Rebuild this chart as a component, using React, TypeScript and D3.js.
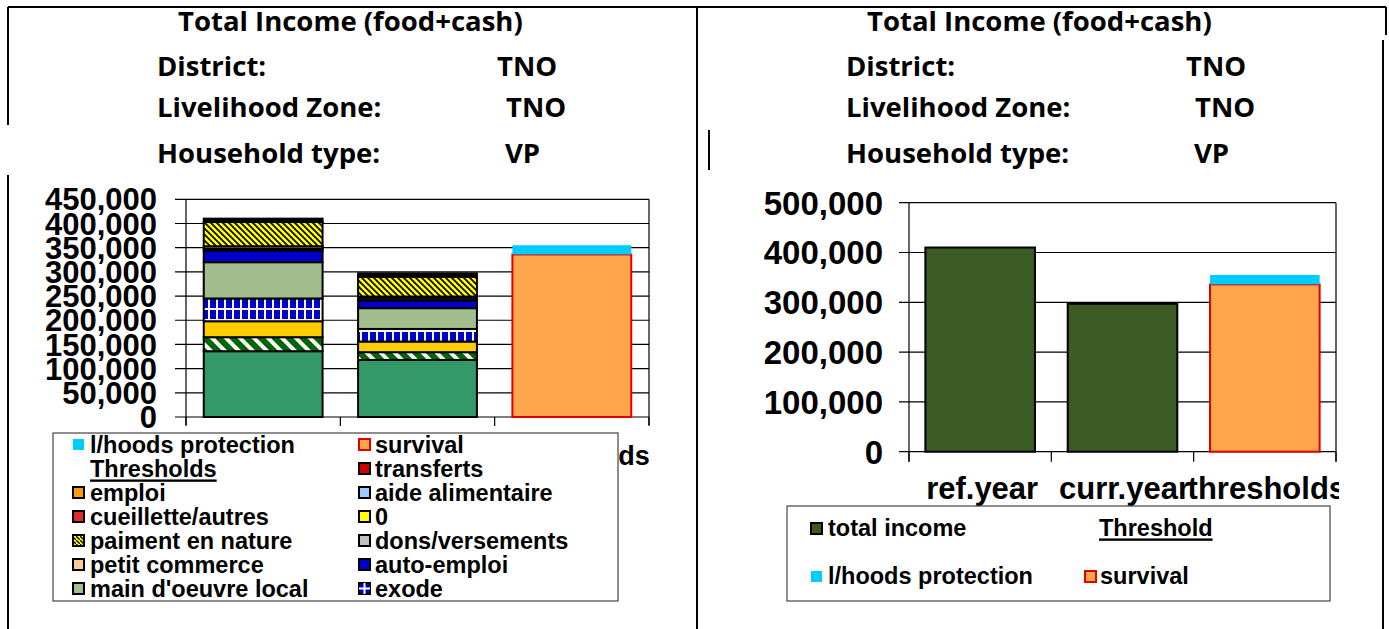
import React from "react";
import * as d3 from "d3";

// ---------- data ----------
const categories = ["ref.year", "curr.year", "thresholds"];

// left chart: stacked income sources (bottom to top)
const cultures = [136000, 118000, 0];
const betail = [29000, 16000, 0];
const achat = [33000, 22000, 0];
const exode = [47000, 26000, 0];
const mainOeuvre = [75000, 43000, 0];
const autoEmploi = [24000, 16000, 0];
const transferts = [4000, 8000, 0];
const petitCommerce = [5000, 0, 0];
const paiementNature = [50000, 41000, 0];
const autres = [7000, 7000, 0];

// thresholds
const survival = [0, 0, 336000];
const lhoodsProtection = [0, 0, 19000];

// right chart
const totalIncome = [410000, 297000, 0];

const leftTicks = [0, 50000, 100000, 150000, 200000, 250000, 300000, 350000, 400000, 450000];
const rightTicks = [0, 100000, 200000, 300000, 400000, 500000];

const leftLegendCol1 = ["l/hoods protection", "Thresholds", "emploi", "cueillette/autres", "paiment en nature", "petit commerce", "main d'oeuvre local"];
const leftLegendCol2 = ["survival", "transferts", "aide alimentaire", "0", "dons/versements", "auto-emploi", "exode"];

// ---------- styles ----------
const GREEN = "#339966";
const ORANGE = "#FFA64D";
const RED = "#E00000";
const CYAN = "#00CCFF";
const BLUE = "#0000CC";
const SAGE = "#A2BE8E";
const OLIVE = "#3B5A24";

type Series = { key: string; values: number[]; fill: string; stroke: string };

const leftSeries: Series[] = [
  { key: "cultures", values: cultures, fill: GREEN, stroke: "#000" },
  { key: "betail", values: betail, fill: "url(#hatchGreen)", stroke: "#000" },
  { key: "achat", values: achat, fill: "#FFCC00", stroke: "#000" },
  { key: "exode", values: exode, fill: "url(#exodePat)", stroke: "#000" },
  { key: "mainOeuvre", values: mainOeuvre, fill: SAGE, stroke: "#000" },
  { key: "autoEmploi", values: autoEmploi, fill: BLUE, stroke: "#000" },
  { key: "transferts", values: transferts, fill: "#111", stroke: "#000" },
  { key: "petitCommerce", values: petitCommerce, fill: "#FFCC99", stroke: "#000" },
  { key: "paiementNature", values: paiementNature, fill: "url(#hatchYellow)", stroke: "#000" },
  { key: "autres", values: autres, fill: "#000", stroke: "#000" },
  { key: "survival", values: survival, fill: ORANGE, stroke: RED },
  { key: "lhoods", values: lhoodsProtection, fill: CYAN, stroke: "none" },
];

const rightSeries: Series[] = [
  { key: "total", values: totalIncome, fill: OLIVE, stroke: "#000" },
  { key: "survival", values: survival, fill: ORANGE, stroke: RED },
  { key: "lhoods", values: lhoodsProtection, fill: CYAN, stroke: "none" },
];

const leftSwatch1 = [
  { fill: CYAN, stroke: "none" },
  null,
  { fill: "#FF9900", stroke: "#000" },
  { fill: "#DD2C2C", stroke: "#000" },
  { fill: "url(#hatchYellowSm)", stroke: "#000" },
  { fill: "#FFCC99", stroke: "#000" },
  { fill: SAGE, stroke: "#000" },
];
const leftSwatch2 = [
  { fill: ORANGE, stroke: RED },
  { fill: "#CC0000", stroke: "#000" },
  { fill: "#99CCFF", stroke: "#000" },
  { fill: "#FFFF00", stroke: "#000" },
  { fill: "#C0C0C0", stroke: "#000" },
  { fill: BLUE, stroke: "#000" },
  { fill: BLUE, stroke: "#000" },
];

const HEAD_FONT = "'Open Sans', Lato, sans-serif";
const AX_FONT = "'Liberation Sans', Arial, sans-serif";
const LEG_SIZE = 23.5;

function stackSeries(series: Series[]) {
  const table = categories.map((c, i) => {
    const row: any = { cat: c };
    series.forEach((s) => (row[s.key] = s.values[i]));
    return row;
  });
  return d3.stack<any>().keys(series.map((s) => s.key))(table);
}

function Header({ dx }: { dx: number }) {
  const st: React.CSSProperties = { fontFamily: HEAD_FONT, fontWeight: 700, fontSize: 27.5 };
  return (
    <g style={st} fill="#000">
      <text x={178 + dx} y={31}>Total Income (food+cash)</text>
      <text x={157 + dx} y={76}>District:</text>
      <text x={497 + dx} y={76}>TNO</text>
      <text x={157 + dx} y={117}>Livelihood Zone:</text>
      <text x={506 + dx} y={117}>TNO</text>
      <text x={157 + dx} y={163}>Household type:</text>
      <text x={505 + dx} y={163}>VP</text>
    </g>
  );
}

function LeftChart() {
  const x0 = 186, x1 = 649, yTop = 199.3, yBot = 417;
  const x = d3.scaleBand<string>().domain(categories).range([x0, x1]).paddingInner(0.23).paddingOuter(0.115);
  const y = d3.scaleLinear().domain([0, 450000]).range([yBot, yTop]);
  const stacked = stackSeries(leftSeries);
  const bounds = d3.range(categories.length + 1).map((i) => x0 + i * ((x1 - x0) / categories.length));
  return (
    <g>
      {leftTicks.map((t) => (
        <line key={t} x1={x0 - 11} x2={x1} y1={y(t)} y2={y(t)} stroke="#000" strokeWidth={1.2} />
      ))}
      <line x1={x0} x2={x0} y1={yTop} y2={yBot + 8} stroke="#000" strokeWidth={1.2} />
      <line x1={x1} x2={x1} y1={yTop} y2={yBot + 8} stroke="#000" strokeWidth={1.2} />
      {bounds.map((b, i) => (
        <line key={i} x1={b} x2={b} y1={yBot} y2={yBot + 9} stroke="#000" strokeWidth={1.2} />
      ))}
      {leftTicks.map((t) => (
        <text key={t} x={157} y={y(t)} dy="0.36em" textAnchor="end" fontFamily={AX_FONT} fontWeight={700} fontSize={31}>
          {d3.format(",")(t)}
        </text>
      ))}
      {stacked.map((layer, li) => {
        const s = leftSeries[li];
        return layer.map((d, i) => {
          if (d[1] - d[0] <= 0) return null;
          return (
            <rect
              key={s.key + i}
              x={x(categories[i])!}
              width={x.bandwidth()}
              y={y(d[1])}
              height={y(d[0]) - y(d[1])}
              fill={s.fill}
              stroke={s.stroke}
              strokeWidth={2}
            />
          );
        });
      })}
      {categories.map((c) => (
        <text key={c} x={x(c)! + x.bandwidth() / 2 + 9} y={465} textAnchor="middle" fontFamily={AX_FONT} fontWeight={700} fontSize={27}>
          {c}
        </text>
      ))}
      {/* legend */}
      <rect x={53} y={433} width={565} height={168} fill="#fff" stroke="#444" strokeWidth={1.2} />
      {leftLegendCol1.map((label, i) => {
        const cy = 445 + i * 24;
        const sw = leftSwatch1[i];
        return (
          <g key={label}>
            {sw && <rect x={73} y={cy - 6} width={11} height={11} fill={sw.fill} stroke={sw.stroke} strokeWidth={2} />}
            <text x={90} y={cy} dy="0.36em" fontFamily={AX_FONT} fontWeight={700} fontSize={LEG_SIZE} textDecoration={sw ? undefined : "underline"}>
              {label}
            </text>
          </g>
        );
      })}
      {leftLegendCol2.map((label, i) => {
        const cy = 445 + i * 24;
        const sw = leftSwatch2[i];
        return (
          <g key={label}>
            <rect x={359} y={cy - 6} width={11} height={11} fill={sw.fill} stroke={sw.stroke} strokeWidth={2} />
            <text x={375} y={cy} dy="0.36em" fontFamily={AX_FONT} fontWeight={700} fontSize={LEG_SIZE}>
              {label}
            </text>
          </g>
        );
      })}
      {/* exode swatch cross */}
      <path d={`M364.5,${445 + 6 * 24 - 6} v11 M359,${445 + 6 * 24 - 0.5} h11`} stroke="#fff" strokeWidth={2} />
    </g>
  );
}

function RightChart() {
  const x0 = 909, x1 = 1336, yTop = 202.7, yBot = 451.7;
  const x = d3.scaleBand<string>().domain(categories).range([x0, x1]).paddingInner(0.23).paddingOuter(0.115);
  const y = d3.scaleLinear().domain([0, 500000]).range([yBot, yTop]);
  const stacked = stackSeries(rightSeries);
  const bounds = d3.range(categories.length + 1).map((i) => x0 + i * ((x1 - x0) / categories.length));
  return (
    <g>
      {rightTicks.map((t) => (
        <line key={t} x1={x0 - 10} x2={x1} y1={y(t)} y2={y(t)} stroke="#000" strokeWidth={1.2} />
      ))}
      <line x1={x0} x2={x0} y1={yTop} y2={yBot + 10} stroke="#000" strokeWidth={1.2} />
      <line x1={x1} x2={x1} y1={yTop} y2={yBot + 10} stroke="#000" strokeWidth={1.2} />
      {bounds.map((b, i) => (
        <line key={i} x1={b} x2={b} y1={yBot} y2={yBot + 10} stroke="#000" strokeWidth={1.2} />
      ))}
      {rightTicks.map((t) => (
        <text key={t} x={883} y={y(t)} dy="0.36em" textAnchor="end" fontFamily={AX_FONT} fontWeight={700} fontSize={33}>
          {d3.format(",")(t)}
        </text>
      ))}
      {stacked.map((layer, li) => {
        const s = rightSeries[li];
        return layer.map((d, i) => {
          if (d[1] - d[0] <= 0) return null;
          return (
            <rect
              key={s.key + i}
              x={x(categories[i])!}
              width={x.bandwidth()}
              y={y(d[1])}
              height={y(d[0]) - y(d[1])}
              fill={s.fill}
              stroke={s.stroke}
              strokeWidth={2}
            />
          );
        });
      })}
      <g clipPath="url(#rightClip)">
        {categories.map((c) => (
          <text key={c} x={x(c)! + x.bandwidth() / 2 + 2} y={499} textAnchor="middle" fontFamily={AX_FONT} fontWeight={700} fontSize={31}>
            {c}
          </text>
        ))}
      </g>
      {/* legend */}
      <rect x={787} y={506} width={543} height={95} fill="#fff" stroke="#444" strokeWidth={1.2} />
      <rect x={811} y={523} width={11} height={11} fill={OLIVE} stroke="#000" strokeWidth={2} />
      <text x={828} y={528} dy="0.36em" fontFamily={AX_FONT} fontWeight={700} fontSize={LEG_SIZE}>total income</text>
      <text x={1099} y={528} dy="0.36em" fontFamily={AX_FONT} fontWeight={700} fontSize={LEG_SIZE} textDecoration="underline">Threshold</text>
      <rect x={811} y={571} width={11} height={11} fill={CYAN} />
      <text x={828} y={576} dy="0.36em" fontFamily={AX_FONT} fontWeight={700} fontSize={LEG_SIZE}>l/hoods protection</text>
      <rect x={1085} y={571} width={11} height={11} fill={ORANGE} stroke={RED} strokeWidth={2} />
      <text x={1100} y={576} dy="0.36em" fontFamily={AX_FONT} fontWeight={700} fontSize={LEG_SIZE}>survival</text>
    </g>
  );
}

export default function App() {
  return (
    <svg width={1389} height={629} style={{ position: "absolute", left: 0, top: 0, background: "#fff" }}>
      <defs>
        <pattern id="hatchYellow" patternUnits="userSpaceOnUse" width={6} height={6}>
          <rect width={6} height={6} fill="#FFFF00" />
          <path d="M-1,-1 L7,7 M-1,5 L1,7 M5,-1 L7,1" stroke="#000" strokeWidth={1.6} />
        </pattern>
        <pattern id="hatchYellowSm" patternUnits="userSpaceOnUse" width={4} height={4}>
          <rect width={4} height={4} fill="#FFFF00" />
          <path d="M-1,-1 L5,5" stroke="#000" strokeWidth={1.3} />
        </pattern>
        <pattern id="hatchGreen" patternUnits="userSpaceOnUse" width={14} height={14}>
          <rect width={14} height={14} fill="#006600" />
          <path d="M-2,-2 L16,16 M-2,12 L2,16 M12,-2 L16,2" stroke="#fff" strokeWidth={4} />
        </pattern>
        <pattern id="exodePat" patternUnits="userSpaceOnUse" width={8} height={11}>
          <rect width={8} height={11} fill={BLUE} />
          <rect x={0} y={0} width={2} height={11} fill="#fff" />
          <rect x={0} y={0} width={8} height={2} fill="#fff" />
        </pattern>
        <clipPath id="rightClip">
          <rect x={700} y={460} width={639} height={50} />
        </clipPath>
      </defs>

      {/* frame lines */}
      <g stroke="#000" strokeWidth={2}>
        <line x1={8} x2={1386} y1={7} y2={7} />
        <line x1={8} x2={8} y1={7} y2={125} />
        <line x1={8} x2={8} y1={175} y2={629} />
        <line x1={697} x2={697} y1={7} y2={629} />
        <line x1={709} x2={709} y1={130} y2={170} />
        <line x1={1386} x2={1386} y1={7} y2={35} />
        <line x1={1383} x2={1383} y1={40} y2={629} />
      </g>

      <Header dx={0} />
      <Header dx={689} />
      <LeftChart />
      <RightChart />
    </svg>
  );
}
